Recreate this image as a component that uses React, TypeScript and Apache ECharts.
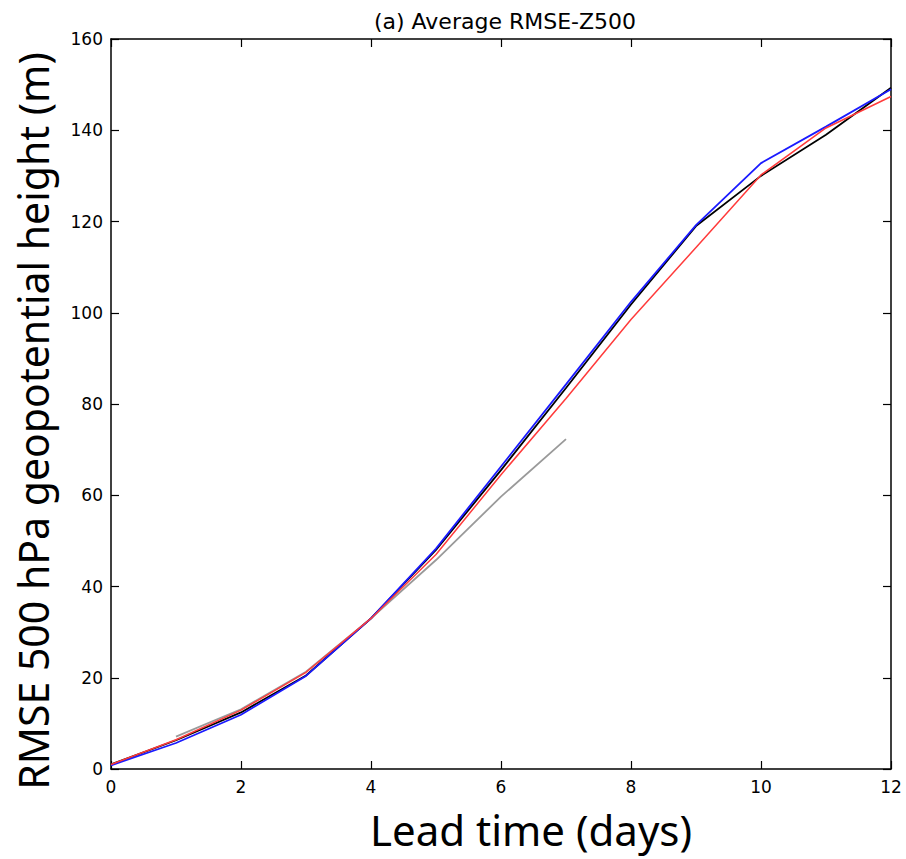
import React, { useEffect, useRef } from "react";
import * as echarts from "echarts";

const leadDays = [0, 1, 2, 3, 4, 5, 6, 7, 8, 9, 10, 11, 12];
const blackSeries = [1.0, 6.3, 12.4, 20.5, 33.0, 48.0, 65.5, 83.5, 101.8, 119.0, 130.0, 139.0, 149.3];
const blueSeries = [0.8, 5.7, 11.9, 20.4, 33.0, 48.3, 66.3, 84.3, 102.4, 119.2, 132.8, 140.8, 149.0];
const redSeries = [1.0, 6.4, 12.9, 21.2, 33.0, 47.0, 64.5, 81.2, 98.5, 114.3, 130.2, 140.5, 147.4];
const graySeries = [null, 7.1, 13.1, 21.3, 33.0, 45.8, 59.7, 72.3, null, null, null, null, null];
const xTicks = [0, 2, 4, 6, 8, 10, 12];
const yTicks = [0, 20, 40, 60, 80, 100, 120, 140, 160];

const toPairs = (vals: (number | null)[]) =>
  leadDays.map((d, i) => [d, vals[i]]).filter((p) => p[1] !== null);

export default function App() {
  const ref = useRef<HTMLDivElement>(null);
  useEffect(() => {
    if (!ref.current) return;
    const chart = echarts.init(ref.current, undefined, { renderer: "svg" });
    const axisLine = { show: true, onZero: false, lineStyle: { color: "#000", width: 1.5 } };
    const tick = { show: true, inside: true, length: 8, lineStyle: { color: "#000", width: 1.2 } };
    const tickFont = { fontFamily: "DejaVu Sans", color: "#000" };
    const line = (name: string, data: any, color: string, width = 1.8) => ({
      name,
      type: "line",
      data,
      showSymbol: false,
      symbol: "none",
      lineStyle: { color, width },
      itemStyle: { color },
      xAxisIndex: 0,
      yAxisIndex: 0,
    });
    chart.setOption({
      animation: false,
      backgroundColor: "#fff",
      title: {
        text: "(a) Average RMSE-Z500",
        left: 500,
        textAlign: "center",
        top: 5,
        textStyle: { fontFamily: "DejaVu Sans", fontSize: 22, fontWeight: "normal", color: "#000" },
      },
      grid: { left: 111, right: 15, top: 39, bottom: 90, containLabel: false },
      xAxis: [
        {
          type: "value",
          min: 0,
          max: 12,
          interval: 2,
          position: "bottom",
          axisLine,
          axisTick: tick,
          splitLine: { show: false },
          axisLabel: { ...tickFont, fontSize: 17, margin: 9, formatter: (v: number) => (xTicks.includes(v) ? String(v) : "") },
          name: "Lead time (days)",
          nameLocation: "middle",
          nameGap: 39,
          nameTextStyle: { fontFamily: "Noto Sans", fontSize: 42, color: "#000", padding: [0, 0, 0, 60] },
        },
        {
          type: "value",
          min: 0,
          max: 12,
          interval: 2,
          position: "top",
          axisLine,
          axisTick: tick,
          splitLine: { show: false },
          axisLabel: { show: false },
        },
      ],
      yAxis: [
        {
          type: "value",
          min: 0,
          max: 160,
          interval: 20,
          position: "left",
          axisLine,
          axisTick: tick,
          splitLine: { show: false },
          axisLabel: { ...tickFont, fontSize: 17, margin: 8, formatter: (v: number) => (yTicks.includes(v) ? String(v) : "") },
          name: "RMSE 500 hPa geopotential height (m)",
          nameLocation: "middle",
          nameRotate: 90,
          nameGap: 58,
          nameTextStyle: { fontFamily: "Noto Sans", fontSize: 41, color: "#000", padding: [0, 34, 0, 0] },
        },
        {
          type: "value",
          min: 0,
          max: 160,
          interval: 20,
          position: "right",
          axisLine,
          axisTick: tick,
          splitLine: { show: false },
          axisLabel: { show: false },
        },
      ],
      series: [
        line("gray", toPairs(graySeries), "#9a9a9a"),
        line("black", toPairs(blackSeries), "#000000"),
        line("blue", toPairs(blueSeries), "#1a1aff"),
        line("red", toPairs(redSeries), "#ff3b3b", 1.5),
      ],
    });
    return () => chart.dispose();
  }, []);
  return <div ref={ref} style={{ width: 906, height: 859, position: "absolute", left: 0, top: 0 }} />;
}
